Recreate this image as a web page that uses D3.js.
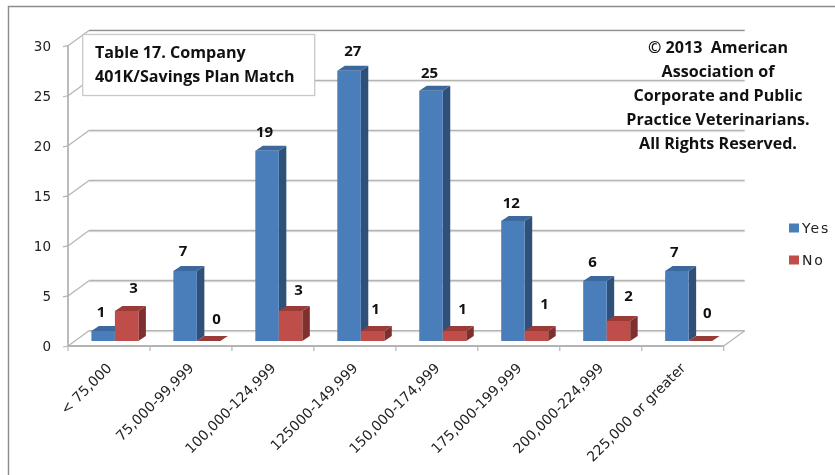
<!DOCTYPE html>
<html><head><meta charset="utf-8">
<script src="https://cdn.jsdelivr.net/npm/d3@7"></script>
<style>html,body{margin:0;background:#fff}svg{display:block;filter:blur(0.45px)}text{font-family:"DejaVu Sans",sans-serif;fill:#222;white-space:pre}.b{font-family:"Open Sans",sans-serif;font-weight:700;fill:#111}</style>
</head><body><svg id="c" width="835" height="475"></svg>
<script>
const categories=["< 75,000","75,000-99,999","100,000-124,999","125000-149,999","150,000-174,999","175,000-199,999","200,000-224,999","225,000 or greater"];
const yesValues=[1,7,19,27,25,12,6,7];
const noValues=[3,0,3,1,1,1,2,0];
const seriesNames=["Yes","No"];
const titleLines=["Table 17. Company","401K/Savings Plan Match"];
const noteLines=["© 2013  American","Association of","Corporate and Public","Practice Veterinarians.","All Rights Reserved."];

const svg=d3.select("#c");
const x=d3.scaleBand().domain(categories).range([68,723.7]);
const y=d3.scaleLinear().domain([0,30]).range([346,45.7]);
const depth={x:21,y:-15.3}, barDepth={x:7.5,y:-5};
const grid="#b4b4b4";
svg.append("path").attr("d","M835,6.5H8.5V475").attr("fill","none").attr("stroke","#8c8c8c").attr("stroke-width",1.4);
const ticks=y.ticks(6);
ticks.forEach(t=>{
  const yy=y(t), top=t===30;
  svg.append("line").attr("x1",68+depth.x).attr("x2",723.7+depth.x).attr("y1",yy+depth.y+1.3).attr("y2",yy+depth.y+1.3).attr("stroke","#ececec").attr("stroke-width",1);
  svg.append("line").attr("x1",68+depth.x).attr("x2",723.7+depth.x).attr("y1",yy+depth.y).attr("y2",yy+depth.y).attr("stroke",top?"#8e8e8e":grid).attr("stroke-width",top?1.2:1.6);
  svg.append("line").attr("x1",68).attr("x2",68+depth.x).attr("y1",yy).attr("y2",yy+depth.y).attr("stroke",grid).attr("stroke-width",1.2);
  svg.append("line").attr("x1",63).attr("x2",68).attr("y1",yy+1).attr("y2",yy).attr("stroke",grid).attr("stroke-width",1.2);
  svg.append("text").attr("x",51).attr("y",yy+1).attr("text-anchor","end").attr("dominant-baseline","middle").attr("font-size",13.5).text(t);
});
svg.append("line").attr("x1",68).attr("x2",68).attr("y1",y(30)).attr("y2",y(0)).attr("stroke",grid).attr("stroke-width",1.8);
svg.append("line").attr("x1",68).attr("x2",723.7).attr("y1",y(0)).attr("y2",y(0)).attr("stroke",grid).attr("stroke-width",1.8);
svg.append("line").attr("x1",723.7).attr("x2",723.7+depth.x).attr("y1",y(0)).attr("y2",y(0)+depth.y).attr("stroke",grid).attr("stroke-width",1.2);
categories.forEach((c,i)=>{
  const tx=x(c);
  svg.append("line").attr("x1",tx).attr("x2",tx).attr("y1",y(0)).attr("y2",y(0)+5).attr("stroke",grid).attr("stroke-width",1.2);
  const ax=tx+x.step()*0.51, ay=y(0)+20;
  svg.append("text").attr("transform",`translate(${ax},${ay}) rotate(-45)`).attr("text-anchor","end").attr("dominant-baseline","middle").attr("font-size",14).text(c);
});
svg.append("line").attr("x1",723.7).attr("x2",723.7).attr("y1",y(0)).attr("y2",y(0)+5).attr("stroke",grid).attr("stroke-width",1.2);

const colors=[{f:"#4a7ebb",s:"#2f5179",t:"#3c689e"},{f:"#bf4d4a",s:"#7f302e",t:"#9b3b38"}];
const barW=23.5, barOff=23.4, floor=5;
const labelNudge=[[[-2,-18],[7,-21.5]],[[-2,-18.5],[8,-21.5]],[[-2.5,-18],[8,-19.5]],[[3.7,-18.5],[3,-21]],[[-1.5,-16.5],[8,-21]],[[-1.6,-17.2],[8,-26]],[[-2.5,-17.5],[10,-23.5]],[[-2.5,-18.2],[7,-27.5]]];
categories.forEach((c,i)=>{
  [yesValues[i],noValues[i]].forEach((v,k)=>{
    const x0=x(c)+barOff+k*barW, x1=x0+barW, yb=y(0)-floor, yt=y(v)-floor, col=colors[k];
    const dx=barDepth.x, dy=barDepth.y;
    svg.append("path").attr("d",`M${x1},${yb}L${x1+dx},${yb+dy}L${x1+dx},${yt+dy}L${x1},${yt}Z`).attr("fill",col.s);
    svg.append("path").attr("d",`M${x0},${yt}L${x0+dx},${yt+dy}L${x1+dx},${yt+dy}L${x1},${yt}Z`).attr("fill",col.t);
    if(v>0) svg.append("rect").attr("x",x0).attr("y",yt).attr("width",barW).attr("height",yb-yt).attr("fill",col.f);
  });
});
categories.forEach((c,i)=>{
  [yesValues[i],noValues[i]].forEach((v,k)=>{
    const cx=x(c)+barOff+k*barW+barW/2, yt=y(v)-floor, n=labelNudge[i][k];
    svg.append("text").attr("class","b").attr("x",cx+n[0]).attr("y",yt+n[1]).attr("text-anchor","middle").attr("dominant-baseline","middle").attr("font-size",15).text(v);
  });
});

svg.append("rect").attr("x",82.7).attr("y",34.5).attr("width",232).attr("height",61).attr("fill","#fff").attr("stroke","#c9c9c9").attr("stroke-width",1.3);
titleLines.forEach((t,i)=>svg.append("text").attr("class","b").attr("x",95).attr("y",54+i*24).attr("dominant-baseline","middle").attr("font-size",16.1).text(t));
noteLines.forEach((t,i)=>svg.append("text").attr("class","b").attr("x",718).attr("y",49+i*24).attr("text-anchor","middle").attr("dominant-baseline","middle").attr("font-size",16.1).text(t));

seriesNames.forEach((s,i)=>{
  const ly=223.5+i*32;
  svg.append("rect").attr("x",789).attr("y",ly).attr("width",10).attr("height",9).attr("fill",colors[i].f);
  svg.append("text").attr("x",802).attr("y",ly+5.5).attr("dominant-baseline","middle").attr("font-size",14).attr("letter-spacing","1.8px").text(s);
});
</script></body></html>
